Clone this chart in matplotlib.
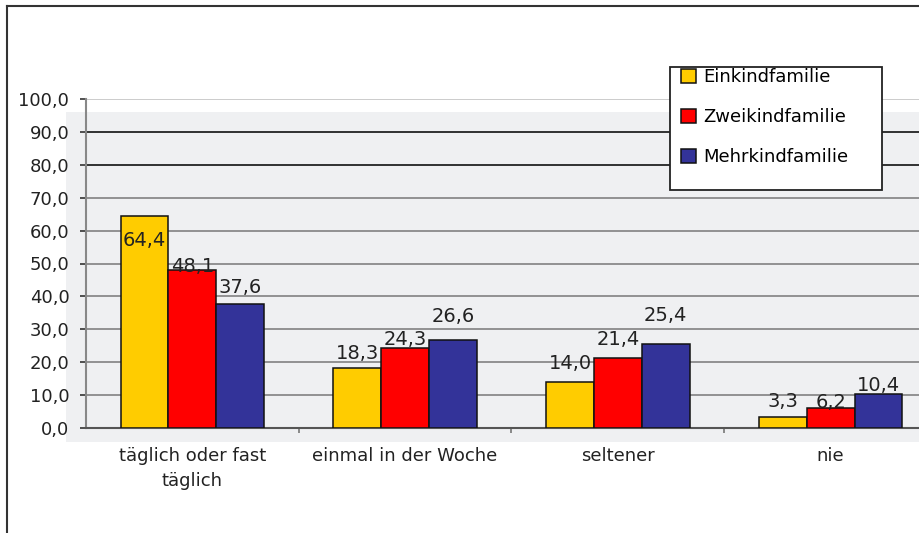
import matplotlib
matplotlib.use('Agg')
import matplotlib.pyplot as plt
import numpy as np
from matplotlib.patches import Rectangle
from matplotlib.lines import Line2D

# Daten
categories = ['täglich oder fast\ntäglich', 'einmal in der Woche', 'seltener', 'nie']
series_names = ['Einkindfamilie', 'Zweikindfamilie', 'Mehrkindfamilie']
einkind = [64.4, 18.3, 14.0, 3.3]
zweikind = [48.1, 24.3, 21.4, 6.2]
mehrkind = [37.6, 26.6, 25.4, 10.4]
y_ticks = [0, 10, 20, 30, 40, 50, 60, 70, 80, 90, 100]

colors = ['#FFCC00', '#FF0000', '#333399']
# Abstand der Werte-Beschriftung ueber dem Balken (Pixel), wie im Original verschoben
label_shift = [[-30, 9, 13, 10], [-2, 3, 13, 0], [11, 18, 23, 3]]

W, H = 920, 533
fig = plt.figure(figsize=(W / 100, H / 100), dpi=100)
ax = fig.add_axes([86 / W, 105 / H, 851 / W, 329 / H])
ax.set_facecolor('none')

# grauer Hintergrund des Diagrammbereichs
fig.add_artist(Rectangle((66 / W, 91 / H), 1 - 66 / W, 330 / H, transform=fig.transFigure,
                         facecolor='#eff0f2', edgecolor='none', zorder=-1))

x = np.arange(len(categories))
w = 0.225
for i, (vals, name, c) in enumerate(zip([einkind, zweikind, mehrkind], series_names, colors)):
    bars = ax.bar(x + (i - 1) * w, vals, w, color=c, edgecolor='#111111', linewidth=1.1,
                  label=name, zorder=3)
    for b, v, dy in zip(bars, vals, label_shift[i]):
        ax.annotate(f'{v:.1f}'.replace('.', ','), (b.get_x() + b.get_width() / 2, v),
                    xytext=(0, dy * 0.72), textcoords='offset points', ha='center',
                    va='baseline', fontsize=14, color='#222222', zorder=4)

ax.set_xlim(-0.5, 3.5)
ax.set_ylim(0, 100)
ax.set_yticks(y_ticks)
ax.set_yticklabels([f'{v:.1f}'.replace('.', ',') for v in y_ticks])
ax.set_xticks(x)
ax.set_xticklabels(categories, linespacing=1.45)
ax.set_xticks([0.5, 1.5, 2.5], minor=True)
ax.tick_params(axis='x', which='major', length=0, pad=14, labelsize=13, labelcolor='#222222')
ax.tick_params(axis='x', which='minor', length=3.5, width=1.2, color='#777777', direction='out')
ax.tick_params(axis='y', length=4, width=1.2, color='#333333', pad=8, labelsize=13,
               labelcolor='#222222')

ax.set_axisbelow(True)
ax.grid(axis='y', color='#8a8a8a', linewidth=1.3)
for val, gl in zip(y_ticks, ax.get_ygridlines()):
    if val in (80, 90):
        gl.set_color('#222222')
    elif val == 100:
        gl.set_color('#c8c8c8')

for s in ['top', 'right']:
    ax.spines[s].set_visible(False)
ax.spines['left'].set_color('#888888')
ax.spines['left'].set_linewidth(1.5)
ax.spines['bottom'].set_color('#555555')
ax.spines['bottom'].set_linewidth(1.5)

# Legende
fig.add_artist(Rectangle((670 / W, 1 - 190 / H), 212 / W, 123 / H, transform=fig.transFigure,
                         facecolor='white', edgecolor='#222222', linewidth=1.3, zorder=4))
handles, labels = ax.get_legend_handles_labels()
leg = fig.legend(handles, labels, loc='upper left', bbox_to_anchor=(681 / W, 1 - 68 / H),
                 frameon=False, fontsize=13, handlelength=0.83, handleheight=0.83,
                 handletextpad=0.4, labelspacing=1.22, borderpad=0, borderaxespad=0)
leg.set_zorder(6)

# aeusserer Rahmen
fig.add_artist(Line2D([7 / W, 7 / W], [0, 1 - 6 / H], transform=fig.transFigure,
                      color='#333333', linewidth=1.5))
fig.add_artist(Line2D([7 / W, 1], [1 - 6 / H, 1 - 6 / H], transform=fig.transFigure,
                      color='#333333', linewidth=1.5))

fig.savefig('out.png', dpi=100)
